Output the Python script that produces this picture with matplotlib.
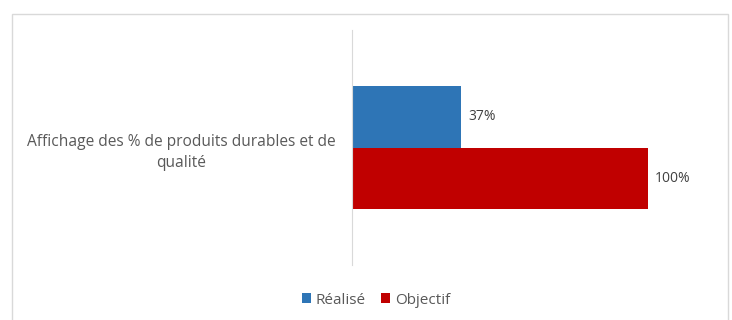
import matplotlib.pyplot as plt
from matplotlib.patches import Rectangle

categories = ['Affichage des % de produits durables et de\nqualité']
series = ['Réalisé', 'Objectif']
realise = [37]
objectif = [100]
colors = ['#2e75b6', '#c00000']

plt.rcParams['font.family'] = ['Open Sans', 'DejaVu Sans']

fig = plt.figure(figsize=(7.32, 3.2), dpi=100)
fig.patches.append(Rectangle((12 / 732, -0.01), 716 / 732, 309 / 320, transform=fig.transFigure,
                             fill=False, edgecolor='#d9d9d9', linewidth=1))
ax = fig.add_axes([352 / 732, 55 / 320, 355 / 732, 235 / 320])

h = 0.26
bars_r = ax.barh([0.13], realise, height=h, color=colors[0], label=series[0])
bars_o = ax.barh([-0.13], objectif, height=h, color=colors[1], label=series[1])
for bars in (bars_r, bars_o):
    for b in bars:
        ax.text(b.get_width() + 2.5, b.get_y() + b.get_height() / 2, '{}%'.format(int(b.get_width())),
                va='center', ha='left', fontsize=10, color='#404040')

ax.set_xlim(0, 120)
ax.set_ylim(-0.5, 0.5)
ax.set_xticks([])
ax.set_yticks([0])
ax.set_yticklabels(categories, fontsize=11.2, color='#595959')
for lbl in ax.get_yticklabels():
    lbl.set_multialignment('center')
    lbl.set_linespacing(1.45)
ax.tick_params(axis='y', length=0, pad=12)
for s in ['top', 'right', 'bottom']:
    ax.spines[s].set_visible(False)
ax.spines['left'].set_color('#d9d9d9')

fig.legend(loc='center', bbox_to_anchor=(376 / 732, 20 / 320), ncol=2, frameon=False,
           fontsize=11, handlelength=0.6, handleheight=0.6, handletextpad=0.3,
           columnspacing=1.0, labelcolor='#595959')

fig.savefig('out.png', dpi=100)
